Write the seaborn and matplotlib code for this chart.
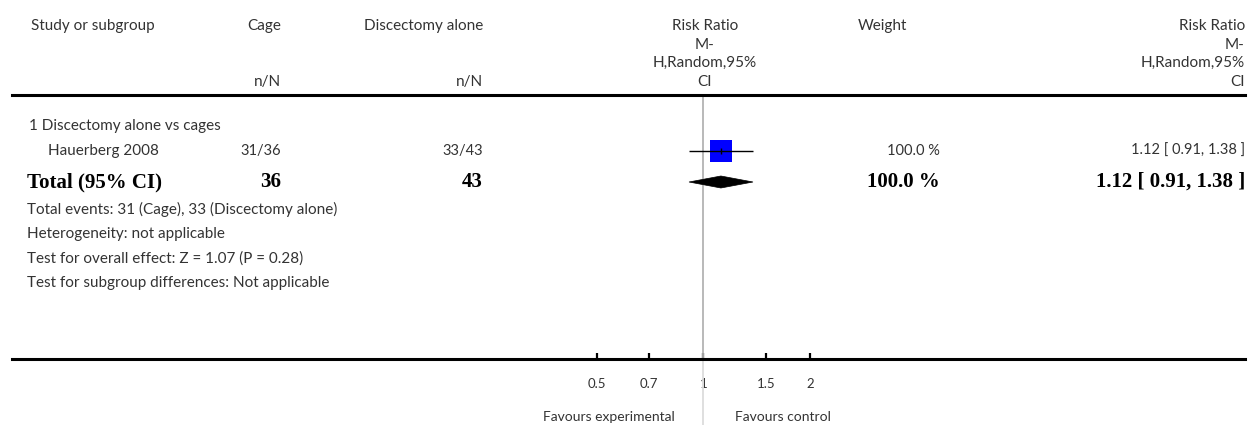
import matplotlib
matplotlib.use("Agg")
import numpy as np
import pandas as pd
import matplotlib.pyplot as plt
import seaborn as sns
from matplotlib.patches import Polygon
from matplotlib.ticker import NullLocator

# ---------------- data ----------------
col_headers = ["Study or subgroup", "Cage", "Discectomy alone", "Weight"]
rr_header_lines = ["Risk Ratio", "M-", "H,Random,95%", "CI"]
subgroup_label = "1 Discectomy alone vs cages"
studies = ["Hauerberg 2008"]
cage_events = [31]
cage_total = [36]
disc_events = [33]
disc_total = [43]
study_rr = [1.12]
study_lo = [0.91]
study_hi = [1.38]
study_weight = [100.0]
total_rr = 1.12
total_lo = 0.91
total_hi = 1.38
total_weight = 100.0
footer_lines = [
    "Total events: 31 (Cage), 33 (Discectomy alone)",
    "Heterogeneity: not applicable",
    "Test for overall effect: Z = 1.07 (P = 0.28)",
    "Test for subgroup differences: Not applicable",
]
tick_values = [0.5, 0.7, 1, 1.5, 2]
tick_labels = ["0.5", "0.7", "1", "1.5", "2"]
favours_left = "Favours experimental"
favours_right = "Favours control"

# ---------------- style / layout ----------------
sns.set_theme(style="white")
plt.rcParams["font.family"] = ["Lato", "DejaVu Sans"]
SERIF = ["Liberation Serif", "DejaVu Serif"]

W, H = 1259, 425
fig = plt.figure(figsize=(W / 100, H / 100), dpi=100)

ax_t = fig.add_axes([0, 0, 1, 1])
ax_t.set_xlim(0, W)
ax_t.set_ylim(H, 0)
ax_t.axis("off")

LINE_L, LINE_R = 12, 1245
TOP_Y, BOT_Y = 95, 359
X_ONE, X_HALF = 703.5, 597.0
ppu = (X_ONE - X_HALF) / np.log(2)
xmin = np.exp((LINE_L - X_ONE) / ppu)
xmax = np.exp((LINE_R - X_ONE) / ppu)

ax_f = fig.add_axes([LINE_L / W, (H - BOT_Y) / H, (LINE_R - LINE_L) / W, (BOT_Y - TOP_Y) / H])
ax_f.patch.set_visible(False)
ax_f.set_xscale("log")
ax_f.set_xlim(xmin, xmax)
ax_f.set_ylim(BOT_Y, TOP_Y)

TXT = "#333333"
FS = 11
FSN = 10.5
FSB = 15

Y_HEAD = 26
Y_NN = 82
Y_SUB = 126
Y_STUDY = [151]
Y_TOTAL = 182
Y_FOOT = [209, 234, 259, 283]

X_STUDY = 31
X_CAGE = 281
X_DISC = 483
X_RRH = 705
X_WEIGHT_H = 882
X_WEIGHT = 940
X_RR = 1245

# headers
ax_t.text(X_STUDY, Y_HEAD, col_headers[0], ha="left", va="center", fontsize=FS, color=TXT)
ax_t.text(X_CAGE, Y_HEAD, col_headers[1], ha="right", va="center", fontsize=FS, color=TXT)
ax_t.text(X_DISC, Y_HEAD, col_headers[2], ha="right", va="center", fontsize=FS, color=TXT)
ax_t.text(X_WEIGHT_H, Y_HEAD, col_headers[3], ha="center", va="center", fontsize=FS, color=TXT)
ax_t.text(X_CAGE, Y_NN, "n/N", ha="right", va="center", fontsize=FS, color=TXT)
ax_t.text(X_DISC, Y_NN, "n/N", ha="right", va="center", fontsize=FS, color=TXT)
rr_head_y = np.linspace(Y_HEAD, Y_NN, len(rr_header_lines))
for yy, line in zip(rr_head_y, rr_header_lines):
    ax_t.text(X_RRH, yy, line, ha="center", va="center", fontsize=FS, color=TXT)
    ax_t.text(X_RR, yy, line, ha="right", va="center", fontsize=FS, color=TXT)

# subgroup + studies
ax_t.text(X_STUDY - 2, Y_SUB, subgroup_label, ha="left", va="center", fontsize=FS, color=TXT)
for i, name in enumerate(studies):
    y = Y_STUDY[i]
    ax_t.text(48, y, name, ha="left", va="center", fontsize=FS, color=TXT)
    ax_t.text(X_CAGE, y, f"{cage_events[i]}/{cage_total[i]}", ha="right", va="center", fontsize=FSN, color=TXT)
    ax_t.text(X_DISC, y, f"{disc_events[i]}/{disc_total[i]}", ha="right", va="center", fontsize=FSN, color=TXT)
    ax_t.text(X_WEIGHT, y, f"{study_weight[i]:.1f} %", ha="right", va="center", fontsize=FSN, color=TXT)
    ax_t.text(X_RR, y, f"{study_rr[i]:.2f} [ {study_lo[i]:.2f}, {study_hi[i]:.2f} ]",
              ha="right", va="center", fontsize=FSN, color=TXT)

# totals
bold = dict(va="center", fontsize=FSB, fontweight="bold", family=SERIF, color="black")
ax_t.text(27, Y_TOTAL, "Total (95% CI)", ha="left", **bold)
ax_t.text(X_CAGE, Y_TOTAL, f"{sum(cage_total)}", ha="right", **bold)
ax_t.text(X_DISC, Y_TOTAL, f"{sum(disc_total)}", ha="right", **bold)
ax_t.text(X_WEIGHT, Y_TOTAL, f"{total_weight:.1f} %", ha="right", **bold)
ax_t.text(X_RR, Y_TOTAL, f"{total_rr:.2f} [ {total_lo:.2f}, {total_hi:.2f} ]", ha="right", **bold)

for y, line in zip(Y_FOOT, footer_lines):
    ax_t.text(27, y, line, ha="left", va="center", fontsize=FS, color=TXT)

# ---------------- forest marks ----------------
ax_f.axvline(1, ymin=0, ymax=1, color="#b3b3b3", lw=1.3, zorder=1)
ax_f.axvline(1, ymin=-0.26, ymax=0, color="#dcdcdc", lw=1.3, zorder=1, clip_on=False)

df = pd.DataFrame({"rr": study_rr, "lo": study_lo, "hi": study_hi, "y": Y_STUDY})
ax_f.hlines(df["y"], df["lo"], df["hi"], color="black", lw=1.0, zorder=3)
sns.scatterplot(data=df, x="rr", y="y", marker="s", s=250, color="#0000ff",
                edgecolor="none", ax=ax_f, legend=False, zorder=2)
ax_f.plot(df["rr"], df["y"], marker="|", markersize=4, color="black", lw=0, zorder=4)

dh = 6
diamond = Polygon([[total_lo, Y_TOTAL], [total_rr, Y_TOTAL - dh], [total_hi, Y_TOTAL],
                   [total_rr, Y_TOTAL + dh]], closed=True, facecolor="black",
                  edgecolor="black", lw=0.5, zorder=3)
ax_f.add_patch(diamond)

for side in ["left", "right"]:
    ax_f.spines[side].set_visible(False)
for side in ["top", "bottom"]:
    ax_f.spines[side].set_visible(True)
    ax_f.spines[side].set_color("black")
    ax_f.spines[side].set_linewidth(2.2)
ax_f.set_xticks(tick_values)
ax_f.set_xticklabels(tick_labels)
ax_f.xaxis.set_minor_locator(NullLocator())
ax_f.set_yticks([])
ax_f.tick_params(axis="x", which="major", direction="in", length=4.5, width=1.6,
                 color="black", pad=14, labelsize=9.5, labelcolor=TXT,
                 bottom=True, top=False)
ax_f.set_xlabel("")
ax_f.set_ylabel("")

ax_t.text(675, 417, favours_left, ha="right", va="center", fontsize=10, color=TXT)
ax_t.text(735, 417, favours_right, ha="left", va="center", fontsize=10, color=TXT)

fig.savefig("out.png", dpi=100)
